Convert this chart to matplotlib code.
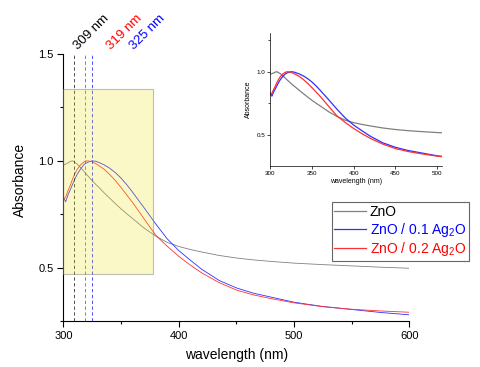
import numpy as np
import matplotlib
matplotlib.use('Agg')
from matplotlib import pyplot as plt
from matplotlib.patches import Rectangle
from matplotlib.ticker import MultipleLocator

plt.rcParams['font.family'] = ['Liberation Sans', 'DejaVu Sans']
plt.rcParams['mathtext.default'] = 'regular'

# data
wl = [300, 302, 304, 306, 308, 310, 312, 315, 318, 320, 322, 325, 328, 330,
      335, 340, 345, 350, 355, 360, 370, 380, 390, 400, 410, 420, 435, 450,
      465, 480, 500, 525, 550, 575, 600]
zno = [0.98, 0.985, 0.99, 0.997, 1.0, 0.993, 0.985, 0.968, 0.95, 0.937, 0.925,
       0.907, 0.89, 0.88, 0.852, 0.826, 0.80, 0.775, 0.752, 0.73, 0.685, 0.648,
       0.618, 0.599, 0.585, 0.573, 0.557, 0.545, 0.536, 0.529, 0.521, 0.514,
       0.508, 0.502, 0.497]
zno_ag01 = [0.83, 0.808, 0.84, 0.865, 0.89, 0.915, 0.937, 0.962, 0.983, 0.99,
            0.995, 1.0, 0.998, 0.994, 0.982, 0.966, 0.945, 0.919, 0.888, 0.853,
            0.78, 0.705, 0.635, 0.58, 0.535, 0.492, 0.44, 0.405, 0.38, 0.362,
            0.338, 0.318, 0.304, 0.29, 0.279]
zno_ag02 = [0.82, 0.83, 0.86, 0.885, 0.915, 0.94, 0.96, 0.982, 0.995, 1.0,
            0.999, 0.995, 0.987, 0.98, 0.962, 0.937, 0.908, 0.875, 0.84, 0.805,
            0.728, 0.652, 0.60, 0.553, 0.512, 0.475, 0.43, 0.395, 0.372, 0.355,
            0.335, 0.317, 0.305, 0.297, 0.291]
labels = ['ZnO', 'ZnO / 0.1 Ag$_2$O', 'ZnO / 0.2 Ag$_2$O']
colors = ['#808080', '#3030ff', '#ff3030']
peaks = [309, 319, 325]
peak_colors = ['black', 'red', 'blue']
peak_label_x = [312.5, 341.5, 361.5]

fig = plt.figure(figsize=(4.8, 3.67), dpi=100)
ax = fig.add_axes([0.132, 0.1253, 0.721, 0.7275])

series = [zno, zno_ag01, zno_ag02]
handles = []
for y, c, lab in zip(series, colors, labels):
    h, = ax.plot(wl, y, color=c, lw=0.6, label=lab)
    handles.append(h)

for p, c in zip(peaks, peak_colors):
    ax.plot([p, p], [0.25, 1.5], color=c, lw=0.6, ls=(0, (4, 3)), alpha=0.8)

rect = Rectangle((300, 0.47), 77.5, 0.866, facecolor=(0.94, 0.88, 0.0, 0.22),
                 edgecolor=(0.5, 0.5, 0.5, 0.5), lw=0.8, zorder=3)
ax.add_patch(rect)

for p, c, xt in zip(peaks, peak_colors, peak_label_x):
    ax.text(xt, 1.52, '%d nm' % p, color=c, fontsize=9.5, rotation=45,
            ha='left', va='baseline', rotation_mode='anchor', clip_on=False)

ax.set_xlim(300, 600)
ax.set_ylim(0.25, 1.5)
ax.set_xticks([300, 400, 500, 600])
ax.set_yticks([0.5, 1.0, 1.5])
ax.xaxis.set_minor_locator(MultipleLocator(50))
ax.yaxis.set_minor_locator(MultipleLocator(0.25))
ax.tick_params(which='major', length=4, width=0.8, labelsize=8, pad=3)
ax.tick_params(which='minor', length=2.5, width=0.8)
for s in ['top', 'right']:
    ax.spines[s].set_visible(False)
for s in ['left', 'bottom']:
    ax.spines[s].set_linewidth(0.8)
ax.set_xlabel('wavelength (nm)', fontsize=10, labelpad=5)
ax.set_ylabel('Absorbance', fontsize=10)
ax.yaxis.set_label_coords(-0.105, 0.53)

leg = fig.legend(handles=handles, loc='upper left', bbox_to_anchor=(0.691, 0.449),
                 fontsize=10, frameon=True, fancybox=False, handlelength=2.3,
                 handletextpad=0.25, borderpad=0.2, labelspacing=0.12,
                 borderaxespad=0)
leg.get_frame().set_edgecolor('#404040')
leg.get_frame().set_linewidth(0.8)
for t, c in zip(leg.get_texts(), ['black', 'blue', 'red']):
    t.set_color(c)
for l in leg.get_lines():
    l.set_linewidth(0.9)

# inset
ins = fig.add_axes([0.563, 0.5485, 0.358, 0.3616])
for y, c in zip(series, colors):
    ins.plot(wl, y, color=c, lw=0.9)
ins.set_xlim(300, 506)
ins.set_ylim(0.26, 1.305)
ins.set_xticks([300, 350, 400, 450, 500])
ins.set_yticks([0.5, 1.0])
ins.yaxis.set_minor_locator(MultipleLocator(0.25))
ins.tick_params(which='major', length=2, width=0.5, labelsize=4.5, pad=1.5)
ins.tick_params(which='minor', length=1.5, width=0.5)
for s in ['top', 'right']:
    ins.spines[s].set_visible(False)
for s in ['left', 'bottom']:
    ins.spines[s].set_linewidth(0.5)
ins.set_xlabel('wavelength (nm)', fontsize=5, labelpad=2)
ins.set_ylabel('Absorbance', fontsize=5, labelpad=3)

fig.savefig('out.png', dpi=100)
